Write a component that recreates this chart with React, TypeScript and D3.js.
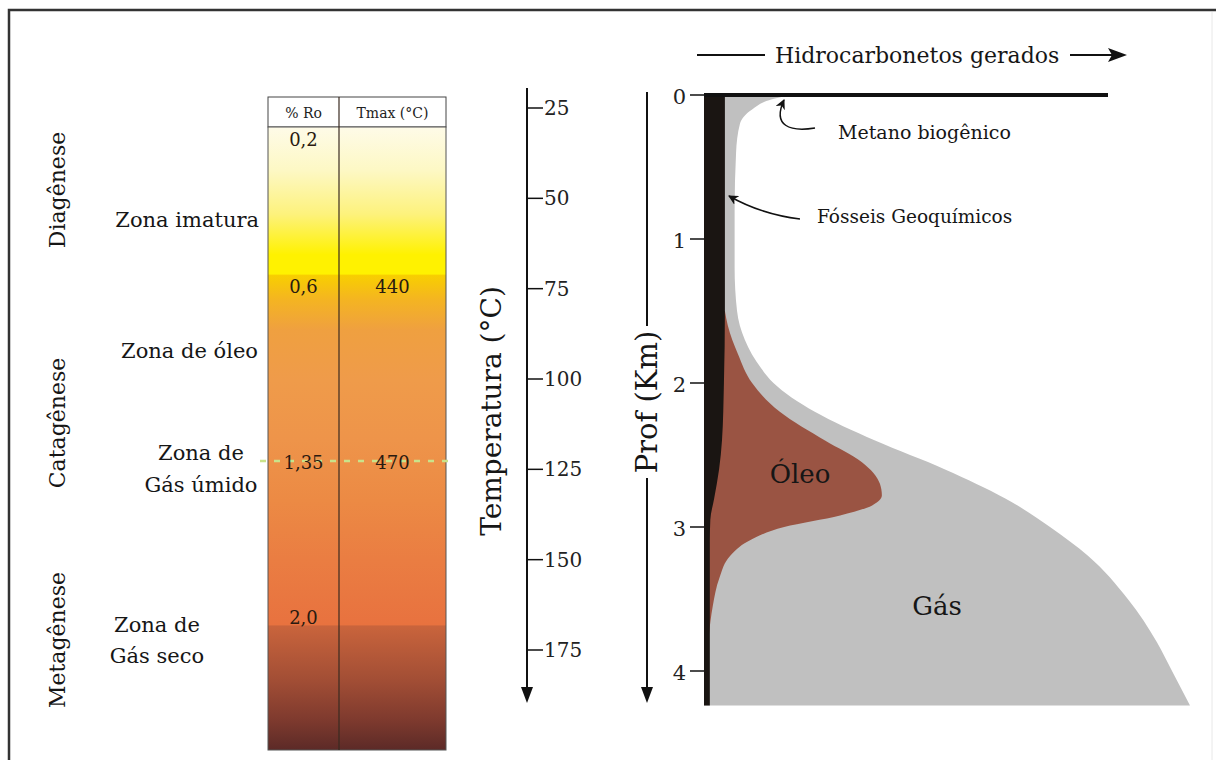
import React from "react";
import * as d3 from "d3";

// ---------- data ----------
const depthTicks = [0, 1, 2, 3, 4];
const tempTicks = [25, 50, 75, 100, 125, 150, 175];
const stages = ["Diagênese", "Catagênese", "Metagênese"];
const zoneLines = [["Zona imatura"], ["Zona de óleo"], ["Zona de", "Gás úmido"], ["Zona de", "Gás seco"]];
const headers = ["% Ro", "Tmax (°C)"];
const roLabels = ["0,2", "0,6", "1,35", "2,0"];
const tmaxLabels = ["", "440", "470", ""];
const axisTitles = ["Temperatura (°C)", "Prof (Km)", "Hidrocarbonetos gerados"];
const annotations = ["Metano biogênico", "Fósseis Geoquímicos", "Óleo", "Gás"];

// generated hydrocarbons (relative amount 0-100) vs depth (km)
const gasDepth = [0, 0.03, 0.1, 0.2, 0.4, 0.8, 1.2, 1.5, 1.7, 1.9, 2.0, 2.2, 2.4, 2.6, 2.8, 3.0, 3.2, 3.5, 3.8, 4.0, 4.24];
const gasAmount = [17.7, 14.0, 9.9, 7.4, 6.6, 6.3, 6.3, 6.8, 8.4, 11.8, 14.3, 22.8, 35.2, 49.6, 61.9, 71.2, 79.0, 87.2, 93.2, 96.3, 100];
const oilDepth = [1.5, 1.6, 1.8, 2.0, 2.2, 2.4, 2.55, 2.7, 2.78, 2.85, 2.92, 3.0, 3.1, 3.2, 3.35, 3.55, 3.75];
const oilAmount = [4.3, 4.9, 7.0, 9.9, 15.6, 24.9, 32.5, 36.2, 36.6, 34.6, 28.0, 16.5, 9.0, 5.4, 3.2, 1.8, 1.0];
const fossilDepth = [0, 1.5, 2.0, 2.4, 2.6, 2.8, 2.95, 3.1, 4.24];
const fossilAmount = [4.3, 4.3, 4.1, 3.7, 3.1, 2.1, 1.3, 1.2, 1.2];

// maturity column colour ramp (position in column 0..1, colour)
const rampPos = [0, 0.07, 0.14, 0.205, 0.236, 0.238, 0.278, 0.326, 0.406, 0.502, 0.599, 0.695, 0.799, 0.801, 0.888, 0.952, 1];
const rampColor = ["#fefbe8", "#fdf8c4", "#fdf27c", "#fff200", "#fff200", "#f8cf00", "#f4b422", "#efa040", "#ef9b4a", "#ee944a", "#ec8a44", "#ea7d42", "#e8723f", "#c9643c", "#a24e35", "#7e3a2e", "#5c2a27"];

const FONT = "'DejaVu Serif', 'Liberation Serif', serif";

export default function App() {
  const W = 1216, H = 760;

  const tempY = d3.scaleLinear().domain([25, 175]).range([108, 650]);
  const depthY = d3.scaleLinear().domain([0, 4]).range([95, 671]);
  const genX = d3.scaleLinear().domain([0, 100]).range([704, 1190]);

  const mkArea = (ds: number[], vs: number[]) =>
    d3
      .area<number>()
      .y((_, i) => depthY(ds[i]))
      .x0(() => genX(0))
      .x1((_, i) => genX(vs[i]))
      .curve(d3.curveMonotoneY)(vs) as string;

  const gasPath = mkArea(gasDepth, gasAmount);
  const oilPath = mkArea(oilDepth, oilAmount);
  const fossilPath = mkArea(fossilDepth, fossilAmount);

  // column geometry
  const cx0 = 268, cx1 = 446, cxm = 339, cyTop = 97, cyHead = 127, cyBot = 750;
  const roX = (cx0 + cxm) / 2, tmX = (cxm + cx1) / 2;
  const roY = [146, 293, 469, 624];
  const dashY = 461;

  const tAxisX = 527, dAxisX = 647;
  const stageX = 57;
  const stageY = [190, 423, 640];
  const ink = "#161616";

  return (
    <svg width={W} height={H} viewBox={`0 0 ${W} ${H}`} style={{ position: "absolute", left: 0, top: 0, background: "#fff" }} fontFamily={FONT}>
      <defs>
        <linearGradient id="ramp" gradientUnits="userSpaceOnUse" x1="0" y1={cyHead} x2="0" y2={cyBot}>
          {rampPos.map((p, i) => (
            <stop key={i} offset={p} stopColor={rampColor[i]} />
          ))}
        </linearGradient>
        <marker id="ah" viewBox="0 0 10 10" refX="9" refY="5" markerWidth="10" markerHeight="10" orient="auto" markerUnits="userSpaceOnUse">
          <path d="M0,0 L10,5 L0,10 L3,5 Z" fill="#111" />
        </marker>
      </defs>

      {/* frame */}
      <path d={`M9,${H} L9,10 L${W},10`} fill="none" stroke="#333" strokeWidth={2.5} />
      <line x1={1212} y1={12} x2={1212} y2={H} stroke="#e8e8e8" strokeWidth={1} />

      {/* stage labels */}
      {stages.map((s, i) => (
        <text key={s} transform={`translate(${stageX},${stageY[i]}) rotate(-90)`} textAnchor="middle" dominantBaseline="central" fontSize={22} fill={ink}>
          {s}
        </text>
      ))}

      {/* zone labels */}
      <text x={259} y={227} textAnchor="end" fontSize={21} fill={ink}>{zoneLines[0][0]}</text>
      <text x={258} y={358} textAnchor="end" fontSize={21} fill={ink}>{zoneLines[1][0]}</text>
      <text x={201} y={460} textAnchor="middle" fontSize={21} fill={ink}>{zoneLines[2][0]}</text>
      <text x={201} y={492} textAnchor="middle" fontSize={21} fill={ink}>{zoneLines[2][1]}</text>
      <text x={157} y={632} textAnchor="middle" fontSize={21} fill={ink}>{zoneLines[3][0]}</text>
      <text x={157} y={663} textAnchor="middle" fontSize={21} fill={ink}>{zoneLines[3][1]}</text>

      {/* maturity column */}
      <rect x={cx0} y={cyTop} width={cx1 - cx0} height={cyHead - cyTop} fill="#fff" stroke="#444" strokeWidth={1} />
      <rect x={cx0} y={cyHead} width={cx1 - cx0} height={cyBot - cyHead} fill="url(#ramp)" stroke="#555" strokeWidth={1} />
      <line x1={cxm} y1={cyTop} x2={cxm} y2={cyBot} stroke="#3a2a20" strokeWidth={1.2} />
      <text x={roX} y={118} textAnchor="middle" fontSize={14} fill="#222">{headers[0]}</text>
      <text x={tmX} y={118} textAnchor="middle" fontSize={14} fill="#222">{headers[1]}</text>
      <line x1={260} y1={dashY} x2={449} y2={dashY} stroke="#c9e38a" strokeWidth={2.5} strokeDasharray="6 8" />
      {roLabels.map((r, i) => (
        <text key={"ro" + i} x={roX} y={roY[i]} textAnchor="middle" fontSize={18} fill="#2a1a10">{r}</text>
      ))}
      {tmaxLabels.map((t, i) =>
        t ? (
          <text key={"tm" + i} x={tmX} y={roY[i]} textAnchor="middle" fontSize={18} fill="#2a1a10">{t}</text>
        ) : null
      )}

      {/* temperature axis */}
      <line x1={tAxisX} y1={88} x2={tAxisX} y2={690} stroke="#111" strokeWidth={2} />
      <path d={`M${tAxisX - 6},${687} L${tAxisX + 6},${687} L${tAxisX},${703} Z`} fill="#111" />
      {tempTicks.map((t) => (
        <g key={t}>
          <line x1={tAxisX} x2={tAxisX + 16} y1={tempY(t)} y2={tempY(t)} stroke="#111" strokeWidth={1.5} />
          <text x={tAxisX + 17} y={tempY(t)} dominantBaseline="central" fontSize={20} fill="#222">{t}</text>
        </g>
      ))}
      <text transform={`translate(491,${411}) rotate(-90)`} textAnchor="middle" dominantBaseline="central" fontSize={28} fill={ink}>
        {axisTitles[0]}
      </text>

      {/* depth axis */}
      <line x1={dAxisX} y1={92} x2={dAxisX} y2={326} stroke="#111" strokeWidth={2} />
      <line x1={dAxisX} y1={478} x2={dAxisX} y2={690} stroke="#111" strokeWidth={2} />
      <path d={`M${dAxisX - 6},${687} L${dAxisX + 6},${687} L${dAxisX},${703} Z`} fill="#111" />
      <text transform={`translate(${dAxisX},402) rotate(-90)`} textAnchor="middle" dominantBaseline="central" fontSize={29} fill={ink}>
        {axisTitles[1]}
      </text>

      {/* generation chart */}
      <path d={gasPath} fill="#c0c0c0" />
      <path d={oilPath} fill="#9a5443" />
      <path d={fossilPath} fill="#1a1512" />
      <line x1={genX(0)} x2={1108} y1={depthY(0)} y2={depthY(0)} stroke="#111" strokeWidth={4} />
      {depthTicks.map((d) => (
        <g key={d}>
          <line x1={690} x2={genX(0)} y1={depthY(d)} y2={depthY(d)} stroke="#111" strokeWidth={1.5} />
          <text x={686} y={depthY(d) + 2} textAnchor="end" dominantBaseline="central" fontSize={21} fill="#222">{d}</text>
        </g>
      ))}

      {/* top title with arrow */}
      <line x1={697} x2={765} y1={55} y2={55} stroke="#111" strokeWidth={2} />
      <text x={775} y={63} fontSize={22} fill={ink}>{axisTitles[2]}</text>
      <line x1={1070} x2={1114} y1={55} y2={55} stroke="#111" strokeWidth={2} />
      <path d="M1108,48 L1127,55 L1108,62 L1112,55 Z" fill="#111" />

      {/* annotations */}
      <path d="M815,128 C790,132 772,126 784,100" fill="none" stroke="#111" strokeWidth={1.5} markerEnd="url(#ah)" />
      <text x={838} y={139} fontSize={19} fill={ink}>{annotations[0]}</text>
      <path d="M800,219 C775,216 750,208 729,196" fill="none" stroke="#111" strokeWidth={1.5} markerEnd="url(#ah)" />
      <text x={817} y={223} fontSize={18.5} fill={ink}>{annotations[1]}</text>
      <text x={800} y={483} textAnchor="middle" fontSize={26} fill={ink}>{annotations[2]}</text>
      <text x={937} y={615} textAnchor="middle" fontSize={26} fill={ink}>{annotations[3]}</text>
    </svg>
  );
}
